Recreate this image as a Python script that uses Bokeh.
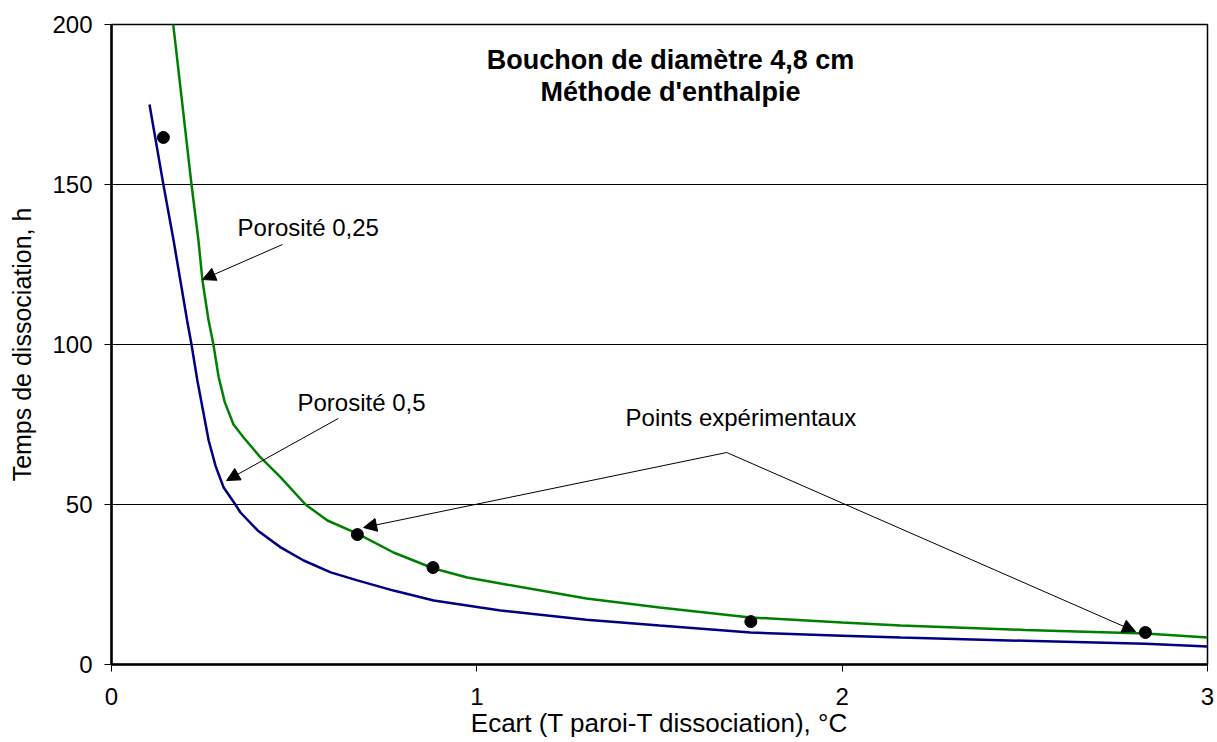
from bokeh.plotting import figure
from bokeh.models import Range1d, Label, Arrow, NormalHead, FixedTicker
from bokeh.embed import file_html
from bokeh.resources import INLINE

# Porosité 0,5 (blue curve)
blue_x = [0.104, 0.142, 0.17, 0.207, 0.219, 0.235, 0.266, 0.285, 0.307, 0.339, 0.353, 0.40,
          0.463, 0.526, 0.60, 0.673, 0.772, 0.882, 1.01, 1.065, 1.3, 1.5, 1.749, 2.0, 2.16,
          2.5, 2.83, 3.0]
blue_y = [175, 150, 132.5, 107.5, 100, 88.75, 70, 62, 55.3, 50, 47.5, 41.9,
          36.6, 32.5, 28.8, 26.3, 23.1, 20, 17.8, 16.9, 14.0, 12.2, 10.0, 9.0, 8.4,
          7.4, 6.5, 5.6]

# Porosité 0,25 (green curve)
green_x = [0.167, 0.219, 0.238, 0.249, 0.265, 0.279, 0.293, 0.31, 0.334, 0.361, 0.408,
           0.463, 0.531, 0.591, 0.673, 0.772, 0.882, 0.974, 1.065, 1.3, 1.5, 1.749, 2.0,
           2.16, 2.5, 2.83, 3.0]
green_y = [202, 150, 132.5, 120, 108, 100, 90, 82, 75, 71, 64.7,
           58.5, 50, 45, 40.9, 35, 30, 27.2, 25.3, 20.6, 17.8, 14.7, 13.1,
           12.2, 10.8, 9.7, 8.4]

# Points expérimentaux
pts_x = [0.142, 0.673, 0.88, 1.75, 2.83]
pts_y = [164.7, 40.6, 30.3, 13.4, 10.0]

x_ticks = [0, 1, 2, 3]
y_ticks = [0, 50, 100, 150, 200]

FONT = "Liberation Sans"

p = figure(width=1217, height=742, output_backend="svg", toolbar_location=None,
           x_range=Range1d(0, 3), y_range=Range1d(0, 200),
           min_border_left=111, min_border_top=24, min_border_right=10, min_border_bottom=78)
p.background_fill_color = "white"
p.border_fill_color = "white"
p.outline_line_color = "black"
p.outline_line_width = 1.5

p.xgrid.visible = False
p.ygrid.grid_line_color = "black"
p.ygrid.grid_line_width = 1
p.ygrid.ticker = FixedTicker(ticks=y_ticks)

for ax in (p.xaxis[0], p.yaxis[0]):
    ax.axis_line_color = "black"
    ax.axis_line_width = 2.5
    ax.major_tick_line_color = "black"
    ax.major_tick_line_width = 1
    ax.major_tick_out = 7
    ax.major_tick_in = 0
    ax.minor_tick_line_color = None
    ax.major_label_text_font = FONT
    ax.major_label_text_font_size = "24px"
    ax.major_label_text_color = "black"
    ax.axis_label_text_font = FONT
    ax.axis_label_text_font_style = "normal"
    ax.axis_label_text_color = "black"

p.xaxis[0].axis_label_text_font_size = "26px"
p.yaxis[0].axis_label_text_font_size = "25px"
p.xaxis[0].ticker = FixedTicker(ticks=x_ticks)
p.yaxis[0].ticker = FixedTicker(ticks=y_ticks)
p.xaxis[0].major_label_standoff = 16
p.xaxis[0].axis_label_standoff = 0
p.yaxis[0].major_label_standoff = 12
p.yaxis[0].axis_label_standoff = 13
p.xaxis[0].axis_label = "Ecart (T paroi-T dissociation), °C"
p.yaxis[0].axis_label = "Temps de dissociation, h"

p.line(green_x, green_y, line_color="#008000", line_width=2.5)
p.line(blue_x, blue_y, line_color="#000080", line_width=2.5)
p.scatter(pts_x, pts_y, size=12, marker="circle", fill_color="black", line_color="black")

# Title lines
p.add_layout(Label(x=1.53, y=188.8, text="Bouchon de diamètre 4,8 cm", text_align="center",
                   text_baseline="alphabetic", text_font=FONT, text_font_size="27px",
                   text_font_style="bold", text_color="black"))
p.add_layout(Label(x=1.53, y=179.0, text="Méthode d'enthalpie", text_align="center",
                   text_baseline="alphabetic", text_font=FONT, text_font_size="27px",
                   text_font_style="bold", text_color="black"))

# Annotations
def lab(x, y, t):
    p.add_layout(Label(x=x, y=y, text=t, text_align="left", text_baseline="alphabetic",
                       text_font=FONT, text_font_size="24px", text_color="black"))

lab(0.345, 136.5, "Porosité 0,25")
lab(0.509, 81.85, "Porosité 0,5")
lab(1.407, 77.2, "Points expérimentaux")

def arrow(x0, y0, x1, y1):
    p.add_layout(Arrow(end=NormalHead(size=13, fill_color="black", line_color="black", line_width=1),
                       x_start=x0, y_start=y0, x_end=x1, y_end=y1,
                       line_color="black", line_width=1))

arrow(0.468, 131.25, 0.249, 120.3)
arrow(0.621, 76.9, 0.315, 57.5)
arrow(1.684, 66.25, 0.690, 42.8)
arrow(1.684, 66.25, 2.803, 10.3)

open("out.html", "w").write(file_html(p, INLINE))
